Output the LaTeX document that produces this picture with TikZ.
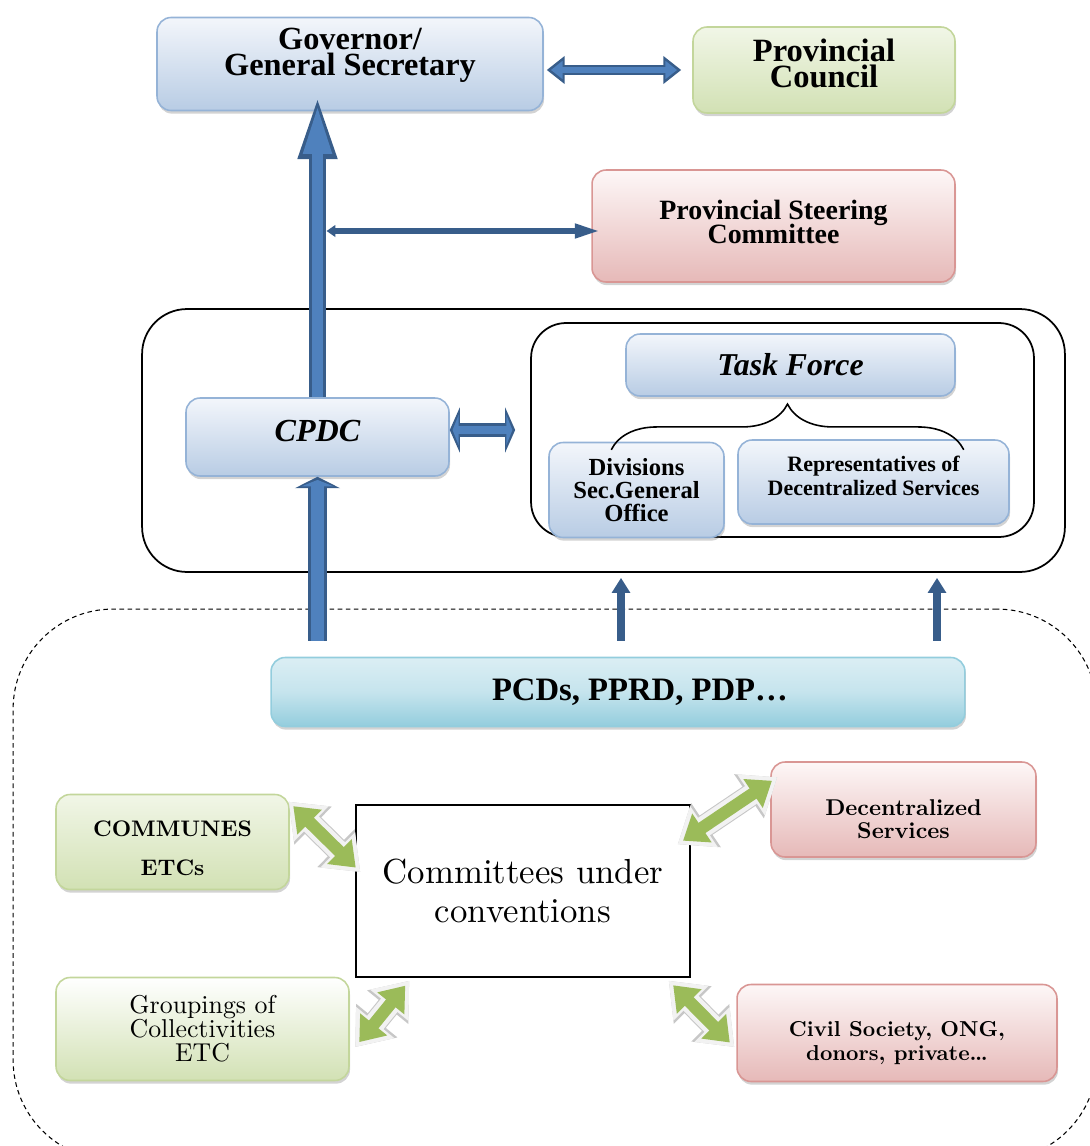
\documentclass[tikz,border=0pt]{standalone}
\usepackage{fontspec}
\newfontfamily\tnr{Liberation Serif}
\newfontfamily\lmten[Extension=.otf, UprightFont=*-regular, BoldFont=*-bold]{lmroman10}
\usepackage{tikz}
\usetikzlibrary{calc,arrows.meta,shadows,decorations.pathreplacing}

\definecolor{blueD}{HTML}{385D8A}
\definecolor{blueF}{HTML}{4F81BD}
\definecolor{blueTop}{HTML}{F3F6FB}
\definecolor{blueBot}{HTML}{B8CCE4}
\definecolor{blueLine}{HTML}{95B3D7}
\definecolor{grnTop}{HTML}{F1F6E7}
\definecolor{grnBot}{HTML}{D2E1B4}
\definecolor{grnLine}{HTML}{C3D69B}
\definecolor{grnArrow}{HTML}{9BBB59}
\definecolor{pnkTop}{HTML}{FDF7F7}
\definecolor{pnkBot}{HTML}{E6B9B8}
\definecolor{pnkLine}{HTML}{D99694}
\definecolor{cyL}{HTML}{DBEEF4}
\definecolor{cyD}{HTML}{93CDDD}

% struts to move a text block up or down inside its box
\newcommand{\padbelow}[1]{\vrule width 0pt height 0pt depth #1\relax}
\newcommand{\padabove}[1]{\vrule width 0pt height #1 depth 0pt\relax}
% keep the line distance even where lines touch
\newcommand{\tightlines}{\lineskiplimit -20pt\relax}

\begin{document}
\begin{tikzpicture}[x=0.02cm, y=-0.02cm,
    box/.style={rounded corners=8pt, line width=0.9pt, align=center, inner sep=0pt,
        drop shadow={shadow xshift=0.6pt, shadow yshift=-1.8pt, opacity=0.35}},
    bluebox/.style={box, draw=blueLine, top color=blueTop, bottom color=blueBot},
    grnbox/.style={box, draw=grnLine, top color=grnTop, bottom color=grnBot},
    pnkbox/.style={box, draw=pnkLine, top color=pnkTop, bottom color=pnkBot},
    panel/.style={draw, line width=1pt},
    tnr/.style 2 args={font=\tnr\bfseries\fontsize{#1}{#2}\selectfont\tightlines},
    tnrit/.style={font=\tnr\bfseries\itshape\fontsize{#1}{#1}\selectfont},
    lmb/.style 2 args={font=\lmten\bfseries\fontsize{#1}{#2}\selectfont\tightlines},
    lmr/.style 2 args={font=\lmten\fontsize{#1}{#2}\selectfont\tightlines},
    upbig/.style={blueD, line width=10.2pt, -{Triangle[width=19.3pt,length=38.6pt]},
        postaction={blueF, draw, line width=6.6pt, shorten >=6.6pt, -{Triangle[width=14.4pt,length=29pt]}}},
    upshort/.style={blueD, line width=10.8pt, -{Triangle[width=25.5pt,length=6.5pt]},
        postaction={blueF, draw, line width=7pt, shorten >=1.8pt, -{Triangle[width=18pt,length=3.6pt]}}},
    pcdbl/.style={blueD, line width=5.7pt, {Triangle[width=15.3pt,length=10.2pt]}-{Triangle[width=15.3pt,length=10.2pt]},
        postaction={blueF, draw, line width=3pt, shorten >=2.4pt, shorten <=2.4pt,
            {Triangle[width=10pt,length=6.6pt]}-{Triangle[width=10pt,length=6.6pt]}}},
    cpdcdbl/.style={blueD, line width=8pt, {Triangle[width=25.5pt,length=5.7pt]}-{Triangle[width=25.5pt,length=5.7pt]},
        postaction={blueF, draw, line width=4.6pt, shorten >=1.6pt, shorten <=1.6pt,
            {Triangle[width=17pt,length=3.4pt]}-{Triangle[width=17pt,length=3.4pt]}}},
    thindbl/.style={blueD, line width=3.4pt, {Triangle[width=6.5pt,length=5pt]}-{Triangle[width=7.6pt,length=14.5pt]}},
    thinup/.style={blueD, line width=4pt, -{Triangle[width=10pt,length=8.5pt]}},
    grnarrow/.style={black!5, line width=12pt, {Triangle[width=27pt,length=18pt]}-{Triangle[width=27pt,length=18pt]},
        preaction={black!22, draw, line width=13.2pt, {Triangle[width=29pt,length=19.4pt]}-{Triangle[width=29pt,length=19.4pt]}},
        postaction={grnArrow, draw, line width=7pt, shorten <=3.6pt, shorten >=3.6pt,
            {Triangle[width=19pt,length=13pt]}-{Triangle[width=19pt,length=13pt]}}},
    brc/.style={decorate, decoration={brace, amplitude=26pt}, line width=0.9pt}]

    \useasboundingbox (0,0) rectangle (1089,1146);

    % Group frames
    \node[draw, line width=0.6pt, dash pattern=on 2.6pt off 2pt, rounded corners=2cm,
        minimum width=21.68cm, minimum height=11.02cm] (pcdgroup) at (555,884.5) {};
    \node[panel, rounded corners=0.9cm, minimum width=18.46cm, minimum height=5.26cm] (cpdcgroup) at (603.5,440.5) {};
    \node[panel, rounded corners=0.7cm, minimum width=10.06cm, minimum height=4.28cm] (tfgroup) at (782.5,430) {};

    % Provincial level
    \node[bluebox, minimum width=7.72cm, minimum height=1.86cm, tnr={18.4}{15}] (gov) at (350,64)
        {Governor/\\General Secretary\padbelow{14pt}};
    \node[grnbox, minimum width=5.24cm, minimum height=1.72cm, tnr={18.5}{15}] (pc) at (824,70)
        {Provincial\\Council\padbelow{8pt}};
    \node[pnkbox, minimum width=7.26cm, minimum height=2.24cm, tnr={15.9}{13.4}] (psc) at (773.5,226)
        {Provincial Steering\\Committee\padbelow{5pt}};

    % CPDC and Task Force
    \node[bluebox, minimum width=5.26cm, minimum height=1.56cm, tnrit=18.3] (cpdc) at (317.5,437)
        {CPDC\padbelow{6.8pt}};
    \node[bluebox, minimum width=6.58cm, minimum height=1.24cm, tnrit=18.1] (tf) at (790.5,365) {Task Force};
    \node[bluebox, minimum width=3.5cm, minimum height=1.9cm, tnr={14}{13.3}] (divs) at (636.5,490)
        {Divisions\\Sec.General\\Office};
    \node[bluebox, minimum width=5.42cm, minimum height=1.68cm, tnr={12.5}{13.6}] (reps) at (873.5,482)
        {Representatives of\\Decentralized Services\padbelow{7pt}};

    % Planning documents and partners
    \node[box, draw=cyD, top color=cyL, bottom color=cyD, middle color=cyL!70!cyD, minimum width=13.88cm,
        minimum height=1.38cm, tnr={18.6}{18}] (pcd) at (618,692) {\hspace*{25pt}PCDs, PPRD, PDP…};
    \node[grnbox, minimum width=4.66cm, minimum height=1.9cm, lmb={12.8}{22}] (comm) at (172.5,842)
        {\padabove{16pt}COMMUNES\\ETCs};
    \node[draw, line width=0.9pt, fill=white, align=center, minimum width=6.68cm, minimum height=3.44cm,
        lmr={19.8}{22}] (conv) at (523,891) {Committees under\\conventions};
    \node[pnkbox, minimum width=5.3cm, minimum height=1.9cm, lmb={13}{13}] (dec) at (903.5,809.5)
        {\padabove{20.4pt}Decentralized\\Services};
    \node[grnbox, top color=white, minimum width=5.86cm, minimum height=2.06cm, lmr={14.7}{13.6}] (grp) at (202.5,1029)
        {Groupings of\\Collectivities\\ETC};
    \node[pnkbox, minimum width=6.4cm, minimum height=1.94cm, lmb={12.3}{13.6}] (civ) at (897,1033)
        {\padabove{19.9pt}Civil Society, ONG,\\donors, private\dots};

    % Brace under the Task Force
    \draw[brc] ([shift={(-14,53)}]tf.south west) -- ([shift={(8,53)}]tf.south east);

    % Blue arrows
    \draw[upbig] (cpdc.north) -- ($(cpdc.north |- gov.south)+(0,-20)$);
    \draw[pcdbl] ([shift={(3,6)}]gov.east) -- ([shift={(-11,0)}]pc.west);
    \coordinate (spine) at ($(cpdc.north |- psc.west)+(9,5)$);
    \draw[thindbl] (spine) -- ([shift={(9,5)}]psc.west);
    \draw[cpdcdbl] (cpdc.east |- tfgroup.west) -- ([shift={(-15,0)}]tfgroup.west);
    \coordinate (feed) at ($(cpdc.south |- pcd.north)+(0,-16)$);
    \draw[upshort] (feed) -- (cpdc.south);
    \foreach \dx in {3,319}
        \draw[thinup] ($(pcd.north)+(\dx,-16)$) -- ($(pcd.north |- cpdcgroup.south)+(\dx,5)$);

    % Green arrows
    \draw[grnarrow] ([shift={(-1,8)}]comm.north east) -- ([shift={(5,-19)}]conv.west);
    \draw[grnarrow] ([shift={(5.5,18)}]grp.east) -- ([shift={(54,3)}]conv.south west);
    \draw[grnarrow] ([shift={(7,16)}]dec.north west) -- ([shift={(-13,40)}]conv.north east);
    \draw[grnarrow] ([shift={(-2,14)}]civ.west) -- ([shift={(-22,3)}]conv.south east);
\end{tikzpicture}
\end{document}
